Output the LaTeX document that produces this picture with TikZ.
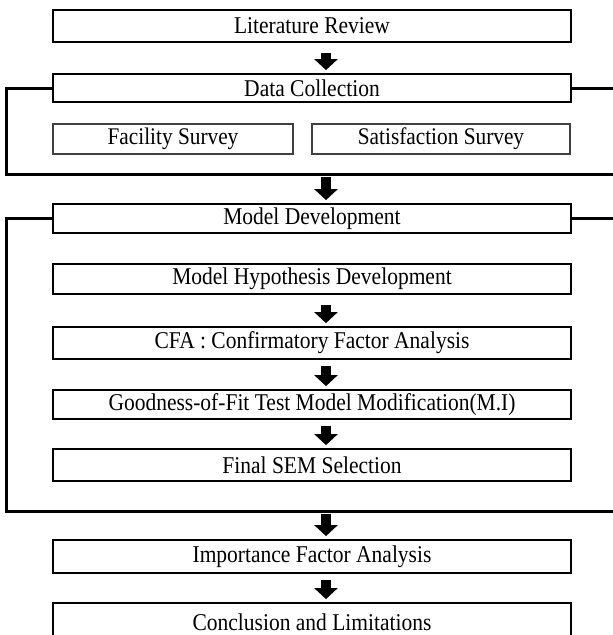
\documentclass[tikz,border=0pt]{standalone}
\usepackage{fontspec}
\setmainfont{Liberation Serif}
\usetikzlibrary{arrows.meta}

% labels are set slightly taller than the font's natural shape
\newcommand{\tallabel}[1]{\scalebox{1}[1.12]{#1}}

\tikzset{
  stagebox/.style={draw=black, line width=2.8pt, rectangle, inner sep=0pt,
    minimum width=518pt, font=\fontsize{21.5}{24}\selectfont},
  subbox/.style={draw=black!75, line width=1.3pt, rectangle, inner sep=0pt,
    minimum height=30pt, font=\fontsize{21.3}{24}\selectfont},
  bracket/.style={line width=3pt, line join=miter},
  fatarrow/.style={line width=10pt, -{Triangle[width=23pt,length=11pt]}, shorten >=2.5pt}
}

\begin{document}
\begin{tikzpicture}[x=1pt, y=-1pt]
  \useasboundingbox (0,0) rectangle (613,635);
  \clip (0,0) rectangle (613,635);

  % main column of stages
  \node[stagebox, minimum height=32pt] (lit)  at (312,26)    {\tallabel{Literature Review}};
  \node[stagebox, minimum height=28pt] (data) at (312,88)    {\tallabel{Data Collection}};
  \node[subbox, minimum width=240pt]   (fac)  at (173,139)   {\tallabel{Facility Survey}};
  \node[subbox, minimum width=258pt]   (sat)  at (441,139)   {\tallabel{Satisfaction Survey}};
  \node[stagebox, minimum height=29pt] (mdev) at (312,218.5) {\tallabel{Model Development}};
  \node[stagebox, minimum height=30pt] (hyp)  at (312,279)   {\tallabel{Model Hypothesis Development}};
  \node[stagebox, minimum height=32pt] (cfa)  at (312,343)   {\tallabel{CFA : Confirmatory Factor Analysis}};
  \node[stagebox, minimum height=29pt] (gof)  at (312,404.5) {\tallabel{Goodness-of-Fit Test Model Modification(M.I)}};
  \node[stagebox, minimum height=32pt] (sem)  at (312,465)   {\tallabel{Final SEM Selection}};
  \node[stagebox, minimum height=33pt] (imp)  at (312,556.5) {\tallabel{Importance Factor Analysis}};
  \node[stagebox, minimum height=38pt] (conc) at (312,622)   {\tallabel{Conclusion and Limitations}};

  % group frames hanging off the section headers
  \coordinate (dLB) at (6,174);
  \coordinate (dRB) at (625,174);
  \coordinate (mLB) at (6,511);
  \coordinate (mRB) at (625,511);
  \draw[bracket] (data.west) -| (dLB) -- (dRB) |- (data.east);
  \draw[bracket] (mdev.west) -| (mLB) -- (mRB) |- (mdev.east);

  % arrows between stages
  \coordinate (ax) at (326,0);
  \coordinate (dMid) at (326,174);
  \coordinate (mMid) at (326,511);
  \draw[fatarrow, shorten <=10pt] (lit.south -| ax) -- (data.north -| ax);
  \draw[fatarrow, shorten <=3pt]  (dMid) -- (mdev.north -| ax);
  \draw[fatarrow, shorten <=10pt] (hyp.south -| ax) -- (cfa.north -| ax);
  \draw[fatarrow, shorten <=6pt]  (cfa.south -| ax) -- (gof.north -| ax);
  \draw[fatarrow, shorten <=6pt]  (gof.south -| ax) -- (sem.north -| ax);
  \draw[fatarrow, shorten <=3pt]  (mMid) -- (imp.north -| ax);
  \draw[fatarrow, shorten <=6pt]  (imp.south -| ax) -- (conc.north -| ax);
\end{tikzpicture}
\end{document}
